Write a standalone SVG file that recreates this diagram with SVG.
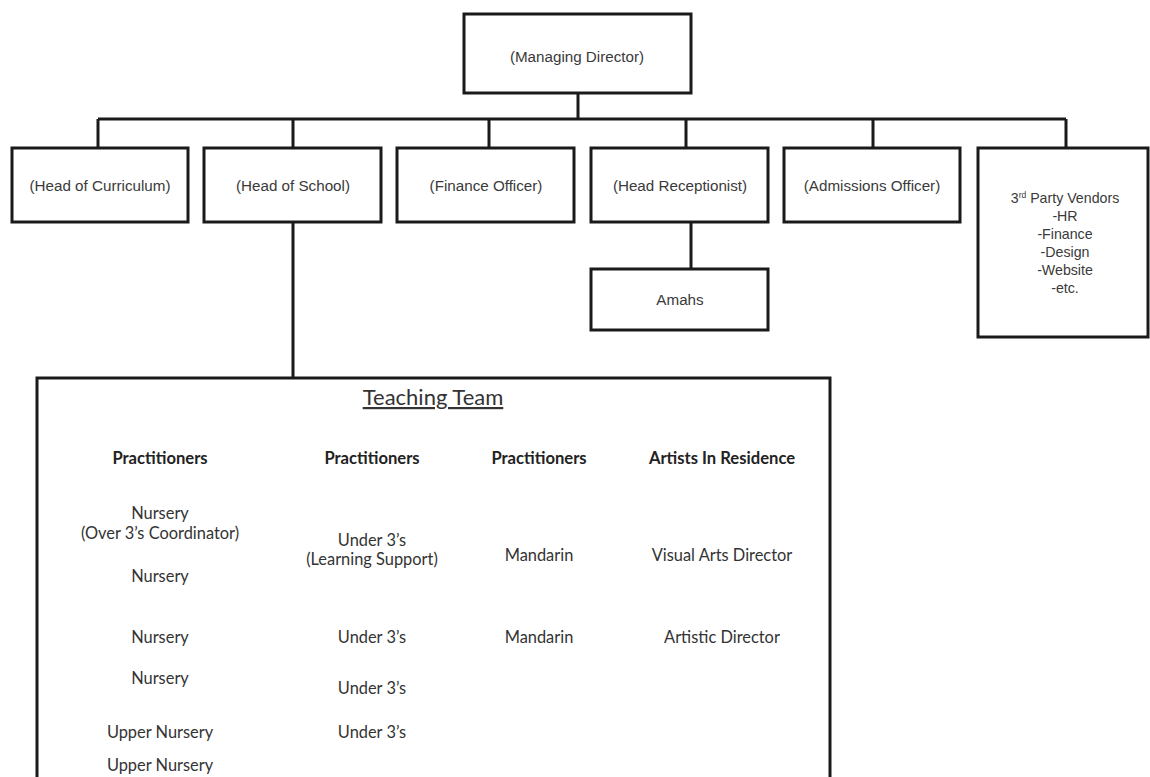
<svg xmlns="http://www.w3.org/2000/svg" width="1150" height="777" viewBox="0 0 1150 777">
<style>
.box{fill:#fff;stroke:#1a1a1a;stroke-width:3}
.con{fill:none;stroke:#1a1a1a;stroke-width:3}
.a{font-family:"Liberation Sans",Arial,sans-serif;font-size:15.2px;fill:#3a3a3a;text-anchor:middle}
.v{font-size:14.2px}
.c{font-family:Lato,"Open Sans",sans-serif;font-size:16.4px;fill:#333;text-anchor:middle}
.b{font-family:Lato,"Open Sans",sans-serif;font-size:16.6px;font-weight:bold;fill:#222;text-anchor:middle}
.h{font-family:Lato,"Open Sans",sans-serif;font-size:22px;fill:#333;text-anchor:middle;text-decoration:underline}
</style>
<rect width="1150" height="777" fill="#fff"/>
<g id="connectors">
<path class="con" d="M578 93V119M98 119H1066M98 119V148M293 119V148M489 119V148M686 119V148M873 119V148M1066 119V148"/>
<path class="con" d="M293 222V378"/>
<path class="con" d="M691 222V269"/>
</g>
<g id="managing-director"><rect class="box" x="464" y="14" width="227" height="79"/><text class="a" x="577" y="62">(Managing Director)</text></g>
<g id="head-of-curriculum"><rect class="box" x="12" y="148" width="176" height="74"/><text class="a" x="100" y="191">(Head of Curriculum)</text></g>
<g id="head-of-school"><rect class="box" x="204" y="148" width="177" height="74"/><text class="a" x="293" y="191">(Head of School)</text></g>
<g id="finance-officer"><rect class="box" x="397" y="148" width="177" height="74"/><text class="a" x="486" y="191">(Finance Officer)</text></g>
<g id="head-receptionist"><rect class="box" x="591" y="148" width="177" height="74"/><text class="a" x="680" y="191">(Head Receptionist)</text></g>
<g id="admissions-officer"><rect class="box" x="784" y="148" width="176" height="74"/><text class="a" x="872" y="191">(Admissions Officer)</text></g>
<g id="vendors"><rect class="box" x="978" y="148" width="170" height="189"/>
<text class="a v" x="1065" y="203">3<tspan font-size="8.5" dy="-5">rd</tspan><tspan dy="5"> Party Vendors</tspan></text>
<text class="a v" x="1065" y="221">-HR</text>
<text class="a v" x="1065" y="239">-Finance</text>
<text class="a v" x="1065" y="257">-Design</text>
<text class="a v" x="1065" y="275">-Website</text>
<text class="a v" x="1065" y="293">-etc.</text>
</g>
<g id="amahs"><rect class="box" x="591" y="269" width="177" height="61"/><text class="a" x="680" y="305">Amahs</text></g>
<g id="teaching-team">
<rect class="box" x="37" y="378" width="793" height="430"/>
<text class="h" x="433" y="405">Teaching Team</text>
<text class="b" x="160" y="464">Practitioners</text>
<text class="b" x="372" y="464">Practitioners</text>
<text class="b" x="539" y="464">Practitioners</text>
<text class="b" x="722" y="464">Artists In Residence</text>
<text class="c" x="160" y="519">Nursery</text>
<text class="c" x="160" y="539">(Over 3’s Coordinator)</text>
<text class="c" x="160" y="582">Nursery</text>
<text class="c" x="160" y="643">Nursery</text>
<text class="c" x="160" y="684">Nursery</text>
<text class="c" x="160" y="738">Upper Nursery</text>
<text class="c" x="160" y="771">Upper Nursery</text>
<text class="c" x="372" y="546">Under 3’s</text>
<text class="c" x="372" y="565">(Learning Support)</text>
<text class="c" x="372" y="643">Under 3’s</text>
<text class="c" x="372" y="694">Under 3’s</text>
<text class="c" x="372" y="738">Under 3’s</text>
<text class="c" x="539" y="561">Mandarin</text>
<text class="c" x="539" y="643">Mandarin</text>
<text class="c" x="722" y="561">Visual Arts Director</text>
<text class="c" x="722" y="643">Artistic Director</text>
</g>
</svg>
